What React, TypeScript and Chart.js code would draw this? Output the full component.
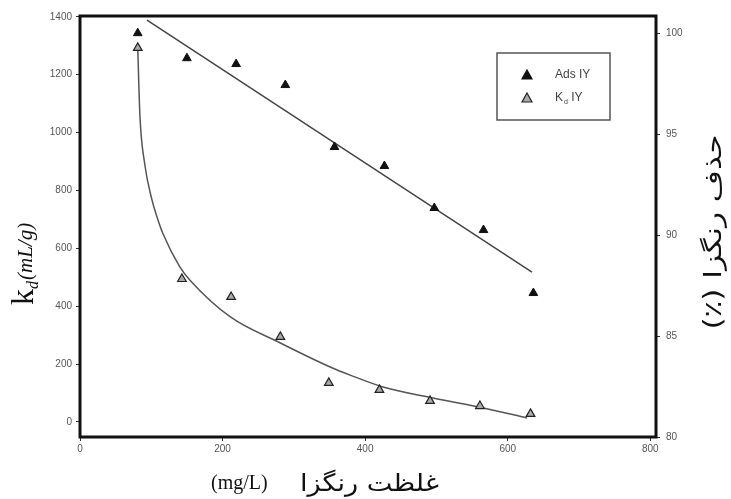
import React, { useEffect, useRef } from "react";
import { Chart, registerables } from "chart.js";

Chart.register(...registerables);

// Removal (%) of dye, right axis — filled triangles
const adsX = [81, 150, 219, 288, 357, 427, 497, 566, 636];
const adsY = [100.0, 98.76, 98.47, 97.43, 94.36, 93.42, 91.34, 90.25, 87.13];

// Kd (mL/g), left axis — hollow triangles
const kdX = [81, 143, 212, 281, 349, 420, 491, 561, 632];
const kdY = [1293, 494, 432, 294, 135, 111, 73, 55, 28];

// Linear fit of removal
const adsFitX = [94, 634];
const adsFitY = [100.64, 88.17];

// Kd fitted curve
const kdFitX = [81, 84, 91, 101, 107, 116, 140, 154, 211, 281, 351, 379, 425, 495, 566, 627];
const kdFitY = [1293, 1061, 888, 767, 716, 653, 536, 491, 363, 273, 190, 162, 121, 83, 48, 14];

const xTicks = [0, 200, 400, 600, 800];
const yTicks = [0, 200, 400, 600, 800, 1000, 1200, 1400];
const y2Ticks = [80, 85, 90, 95, 100];

const legendLabels = ["Ads IY", "K|d| IY"];

const zip = (xs: number[], ys: number[]) => xs.map((x, i) => ({ x, y: ys[i] }));

const decorPlugin = {
  id: "decor",
  afterDatasetsDraw(chart: any) {
    const { ctx, chartArea } = chart;
    const { left, top, right, bottom } = chartArea;
    ctx.save();
    // frame
    ctx.strokeStyle = "#111";
    ctx.lineWidth = 3;
    ctx.strokeRect(left, top, right - left, bottom - top);

    // legend box
    ctx.lineWidth = 1.5;
    ctx.strokeStyle = "#555";
    ctx.fillStyle = "#fff";
    ctx.fillRect(497, 53, 113, 67);
    ctx.strokeRect(497, 53, 113, 67);

    const tri = (cx: number, cy: number, fill: string, stroke: string) => {
      ctx.beginPath();
      ctx.moveTo(cx, cy - 5);
      ctx.lineTo(cx + 5, cy + 4);
      ctx.lineTo(cx - 5, cy + 4);
      ctx.closePath();
      ctx.fillStyle = fill;
      ctx.fill();
      ctx.strokeStyle = stroke;
      ctx.lineWidth = 1.2;
      ctx.stroke();
    };
    tri(527, 75, "#111", "#111");
    tri(527, 98, "#aaa", "#222");

    ctx.fillStyle = "#444";
    ctx.textBaseline = "middle";
    ctx.textAlign = "left";
    ctx.font = "12px 'Liberation Sans', Arial, sans-serif";
    ctx.fillText(legendLabels[0], 555, 75);
    const parts = legendLabels[1].split("|");
    ctx.fillText(parts[0], 555, 98);
    let px = 555 + ctx.measureText(parts[0]).width + 1;
    ctx.font = "7px 'Liberation Sans', Arial, sans-serif";
    ctx.fillText(parts[1], px, 102);
    px += ctx.measureText(parts[1]).width;
    ctx.font = "12px 'Liberation Sans', Arial, sans-serif";
    ctx.fillText(parts[2], px, 98);

    // left axis title: k_d(mL/g)
    ctx.save();
    ctx.translate(33, 305);
    ctx.rotate(-Math.PI / 2);
    ctx.fillStyle = "#111";
    ctx.textBaseline = "alphabetic";
    ctx.font = "32px 'Liberation Serif', 'DejaVu Serif', serif";
    ctx.fillText("k", 0, 0);
    let tx = ctx.measureText("k").width;
    ctx.font = "italic 16px 'Liberation Serif', serif";
    ctx.fillText("d", tx, 5);
    tx += ctx.measureText("d").width + 1;
    ctx.font = "italic 21px 'Liberation Serif', serif";
    ctx.fillText("(mL/g)", tx, -1);
    ctx.restore();

    // right axis title (Persian)
    ctx.save();
    ctx.translate(721, 232);
    ctx.rotate(-Math.PI / 2);
    ctx.fillStyle = "#111";
    ctx.direction = "rtl";
    ctx.textAlign = "center";
    ctx.textBaseline = "alphabetic";
    ctx.font = "24px 'DejaVu Sans', sans-serif";
    const rt = "حذف رنگزا (٪)";
    const rw = ctx.measureText(rt).width;
    const sx = Math.min(1.4, 195 / rw);
    ctx.scale(sx, 1);
    ctx.fillText(rt, 0, 0);
    ctx.restore();

    // bottom axis title
    ctx.fillStyle = "#111";
    ctx.textBaseline = "alphabetic";
    ctx.textAlign = "left";
    ctx.font = "20px 'Liberation Serif', serif";
    ctx.fillText("(mg/L)", 211, 489);
    ctx.save();
    ctx.font = "24px 'DejaVu Sans', sans-serif";
    const bt = "غلظت رنگزا";
    const bw = ctx.measureText(bt).width;
    ctx.translate(300, 491);
    ctx.scale(Math.min(1.4, 139 / bw), 1);
    ctx.fillText(bt, 0, 0);
    ctx.restore();

    ctx.restore();
  },
};

export default function App() {
  const ref = useRef<HTMLCanvasElement | null>(null);

  useEffect(() => {
    document.body.style.margin = "0";
    if (!ref.current) return;
    const tickFont = { family: "'Liberation Sans', Arial, sans-serif", size: 10 };
    const plain = (v: any) => String(v);
    const chart = new Chart(ref.current, {
      type: "scatter",
      data: {
        datasets: [
          {
            label: "Ads IY",
            data: zip(adsX, adsY),
            yAxisID: "y2",
            pointStyle: "triangle",
            pointRadius: 5,
            backgroundColor: "#111",
            borderColor: "#111",
            borderWidth: 1,
            showLine: false,
          },
          {
            label: "Kd IY",
            data: zip(kdX, kdY),
            yAxisID: "y",
            pointStyle: "triangle",
            pointRadius: 5,
            backgroundColor: "#aaa",
            borderColor: "#222",
            borderWidth: 1.2,
            showLine: false,
          },
          {
            label: "fit ads",
            data: zip(adsFitX, adsFitY),
            yAxisID: "y2",
            showLine: true,
            pointRadius: 0,
            borderColor: "#444",
            borderWidth: 1.5,
          },
          {
            label: "fit kd",
            data: zip(kdFitX, kdFitY),
            yAxisID: "y",
            showLine: true,
            pointRadius: 0,
            borderColor: "#555",
            borderWidth: 1.5,
            cubicInterpolationMode: "monotone",
          },
        ],
      },
      options: {
        responsive: false,
        animation: false,
        layout: { padding: { top: 16, left: 0, right: 0, bottom: 0 } },
        plugins: { legend: { display: false }, tooltip: { enabled: false }, title: { display: false } },
        scales: {
          x: {
            type: "linear",
            position: "bottom",
            min: 0,
            max: 808,
            afterBuildTicks: (s: any) => {
              s.ticks = xTicks.map((v) => ({ value: v }));
            },
            afterFit: (s: any) => {
              s.height = 62;
            },
            grid: { drawOnChartArea: false, tickLength: 4, color: "#333" },
            border: { display: false },
            ticks: { font: tickFont, color: "#555", padding: 2, maxRotation: 0, callback: plain },
          },
          y: {
            type: "linear",
            position: "left",
            min: -52,
            max: 1403,
            afterBuildTicks: (s: any) => {
              s.ticks = yTicks.map((v) => ({ value: v }));
            },
            afterFit: (s: any) => {
              s.width = 80;
            },
            grid: { drawOnChartArea: false, tickLength: 4, color: "#333" },
            border: { display: false },
            ticks: { font: tickFont, color: "#555", padding: 4, callback: plain },
          },
          y2: {
            type: "linear",
            position: "right",
            min: 80,
            max: 100.85,
            afterBuildTicks: (s: any) => {
              s.ticks = y2Ticks.map((v) => ({ value: v }));
            },
            afterFit: (s: any) => {
              s.width = 75;
            },
            grid: { drawOnChartArea: false, tickLength: 4, color: "#333" },
            border: { display: false },
            ticks: { font: tickFont, color: "#555", padding: 6, callback: plain },
          },
        },
      },
      plugins: [decorPlugin],
    } as any);
    return () => chart.destroy();
  }, []);

  return (
    <div style={{ width: 731, height: 499, background: "#fff" }}>
      <canvas ref={ref} width={731} height={499} style={{ display: "block" }} />
    </div>
  );
}
